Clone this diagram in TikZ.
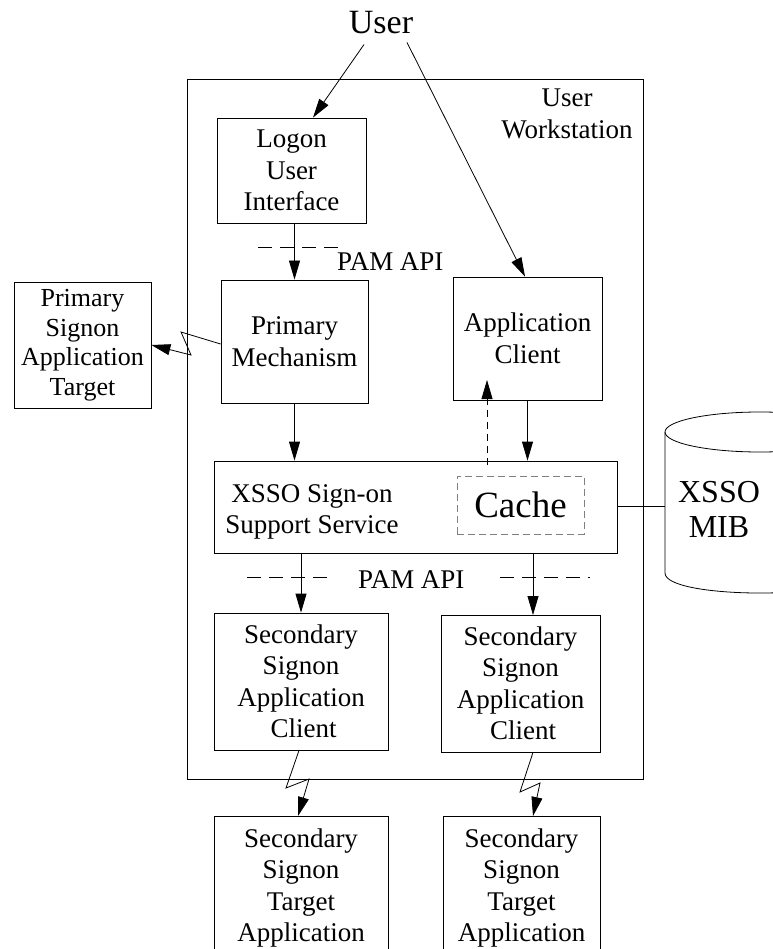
\documentclass[tikz,border=0pt]{standalone}
\usepackage{fontspec}
\setmainfont{Liberation Serif}
\usetikzlibrary{arrows.meta}
\newcommand\bodyfont{\fontsize{27}{31.5}\selectfont}
\newcommand\userfont{\fontsize{34}{38}\selectfont}
\newcommand\cachefont{\fontsize{37}{40}\selectfont}
\newcommand\mibfont{\fontsize{32}{35}\selectfont}
\newcommand\pstfont{\fontsize{26}{29.5}\selectfont}
\begin{document}
\begin{tikzpicture}[x=1pt,y=-1pt,
  box/.style={draw, line width=0.8pt, inner sep=0pt, align=center, font=\bodyfont},
  lbl/.style={inner sep=0pt, align=center, font=\bodyfont},
  conn/.style={line width=0.8pt},
  arr/.style={line width=0.8pt, -{Triangle[length=19pt,width=11pt]}},
  sepline/.style={line width=0.8pt, dash pattern=on 14pt off 8pt}]
\useasboundingbox (0,0) rectangle (772,949);
% boxes
\node[box, minimum width=456pt, minimum height=700pt] (ws) at (415,429) {};
\node[lbl] (wslabel) at (567,114) {User\\Workstation};
\node[lbl, font=\userfont] (user) at (381,23) {User};
\node[box, minimum width=149pt, minimum height=105pt] (logon) at (291.5,170.5) {Logon\\User\\Interface};
\node[box, minimum width=147pt, minimum height=123pt] (pm) at (294.5,341.5) {Primary\\Mechanism};
\node[box, minimum width=149pt, minimum height=123pt] (ac) at (527.5,338.5) {Application\\Client};
\node[box, minimum width=137pt, minimum height=126pt, font=\pstfont] (pst) at (82.5,345) {Primary\\Signon\\Application\\Target};
\node[box, minimum width=403pt, minimum height=92pt] (xsso) at (415.5,507) {};
\node[lbl] (xssotext) at (312,512) {XSSO Sign-on\\Support Service};
\node[box, draw=gray, dash pattern=on 7pt off 4pt, minimum width=127pt, minimum height=58pt, font=\cachefont] (cache) at (520.5,505) {Cache};
\node[box, minimum width=174pt, minimum height=137pt] (ssac1) at (301,681.5) {Secondary\\Signon\\Application\\\hspace{5pt}Client};
\node[box, minimum width=159pt, minimum height=137pt] (ssac2) at (520.5,683.5) {Secondary\\Signon\\Application\\\hspace{5pt}Client};
\node[box, minimum width=174pt, minimum height=144pt] (t1) at (301,888) {Secondary\\Signon\\Target\\Application};
\node[box, minimum width=157pt, minimum height=144pt] (t2) at (521.5,888) {Secondary\\Signon\\Target\\Application};
% cylinder
\draw[conn] (760,432) ellipse [x radius=95, y radius=20];
\draw[conn] (665,432) -- (665,573) .. controls (665,599.7) and (855,599.7) .. (855,573) -- (855,432);
\node[lbl, font=\mibfont] (mib) at (719,509) {XSSO\\MIB};
\coordinate (mibleft) at (665,506);
\draw[conn] (xsso.east |- mibleft) -- (mibleft);
% connectors
\draw[arr] ([xshift=-17pt,yshift=-10pt]user.south) -- ([xshift=21.5pt]logon.north);
\draw[arr] ([xshift=26pt,yshift=-8pt]user.south) -- ([xshift=-2.5pt]ac.north);
\draw[arr] (pm.north |- logon.south) -- (pm.north);
\draw[sepline] (258,247) -- (343,247);
\node[lbl, anchor=base west] (pam1) at (337,271) {PAM API};
\draw[arr] ([yshift=-2.5pt]pm.west) -- (181,332) -- (191,355) -- (pst.east);
\draw[arr] (pm.south) -- (pm.south |- xsso.north);
\draw[arr] (ac.south) -- (ac.south |- xsso.north);
\coordinate (dstart) at (487,465);
\coordinate (dend) at (487,380);
\draw[arr, dash pattern=on 7pt off 5pt] (dstart) -- (dend);
\draw[sepline] (247,577) -- (332,577);
\draw[sepline] (500,577) -- (590,577);
\node[lbl, anchor=base west] (pam2) at (358,588) {PAM API};
\draw[arr] (ssac1.north |- xsso.south) -- (ssac1.north);
\coordinate (s2in) at (533,615);
\draw[arr] (xsso.south -| s2in) -- (s2in);
\coordinate (z1in) at (298,816);
\draw[arr] ([xshift=-2pt]ssac1.south) -- (286,788) -- (309,779) -- (z1in);
\coordinate (z2in) at (533,816);
\draw[arr] ([xshift=12.5pt]ssac2.south) -- (520,792) -- (540,783) -- (z2in);
\end{tikzpicture}
\end{document}
